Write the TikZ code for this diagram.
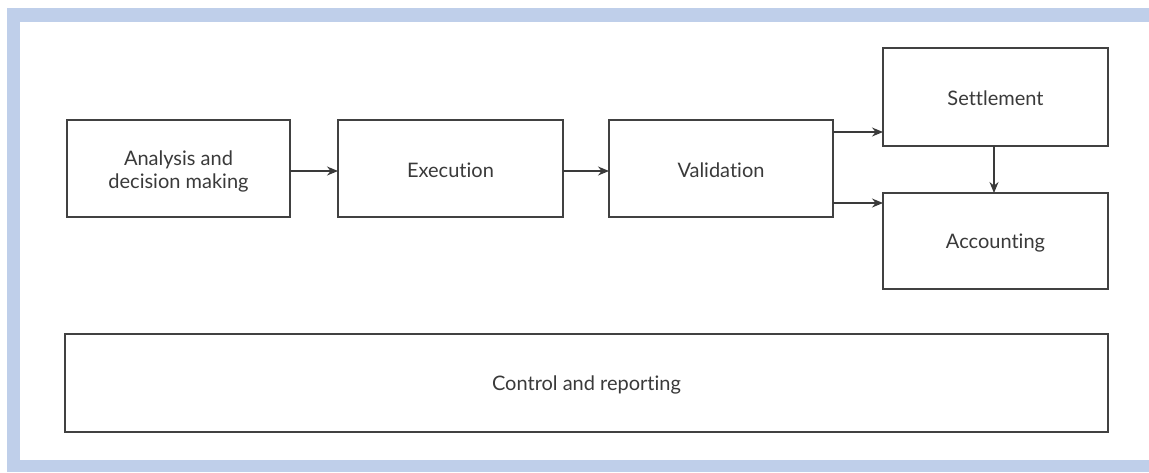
\documentclass[tikz,border=0pt]{standalone}
\usepackage{fontspec}
\setmainfont{Lato}[Ligatures={NoCommon,NoRare,NoContextual}]
\usetikzlibrary{arrows.meta}
\definecolor{band}{HTML}{BFCFEA}
\definecolor{ink}{HTML}{3A3A3A}
\begin{document}
\begin{tikzpicture}[x=1pt,y=-1pt,
  box/.style={draw=ink!90!gray,line width=1.4pt,inner sep=0pt,fill=white},
  lbl/.style={text=ink,font=\fontsize{20}{23}\selectfont,align=center},
  conn/.style={draw=ink,line width=1.3pt,-{Stealth[length=11pt,width=9pt]}}]
\useasboundingbox (0,0) rectangle (1149,472);
\fill[band] (7,8) rectangle (1149,22);
\fill[band] (7,8) rectangle (20,472);
\fill[band] (7,460) rectangle (1149,472);
% boxes
\draw[box] (67,120) rectangle (290,217);
\node[lbl] (ana) at (178.5,171) {Analysis and\\decision making};
\draw[box] (338,120) rectangle (563,217);
\node[lbl] (exe) at (450.5,170) {Execution};
\draw[box] (609,120) rectangle (833,217);
\node[lbl] (val) at (721,170) {Validation};
\draw[box] (883,48) rectangle (1108,146);
\node[lbl] (set) at (995.5,98) {Settlement};
\draw[box] (883,193) rectangle (1108,289);
\node[lbl] (acc) at (995.5,243) {Accounting};
\draw[box] (65,334) rectangle (1108,432);
\node[lbl] (ctl) at (586.5,385) {Control and reporting};
% connector anchors
\coordinate (a1) at (290,171);
\coordinate (e0) at (338,171);
\coordinate (e1) at (563,171);
\coordinate (v0) at (609,171);
\coordinate (vs) at (833,132);
\coordinate (s0) at (883,132);
\coordinate (va) at (833,203);
\coordinate (a0) at (883,203);
\coordinate (sb) at (994,146);
\coordinate (at) at (994,193);
\draw[conn] (a1) -- (e0);
\draw[conn] (e1) -- (v0);
\draw[conn] (vs) -- (s0);
\draw[conn] (va) -- (a0);
\draw[conn] (sb) -- (at);
\end{tikzpicture}
\end{document}
